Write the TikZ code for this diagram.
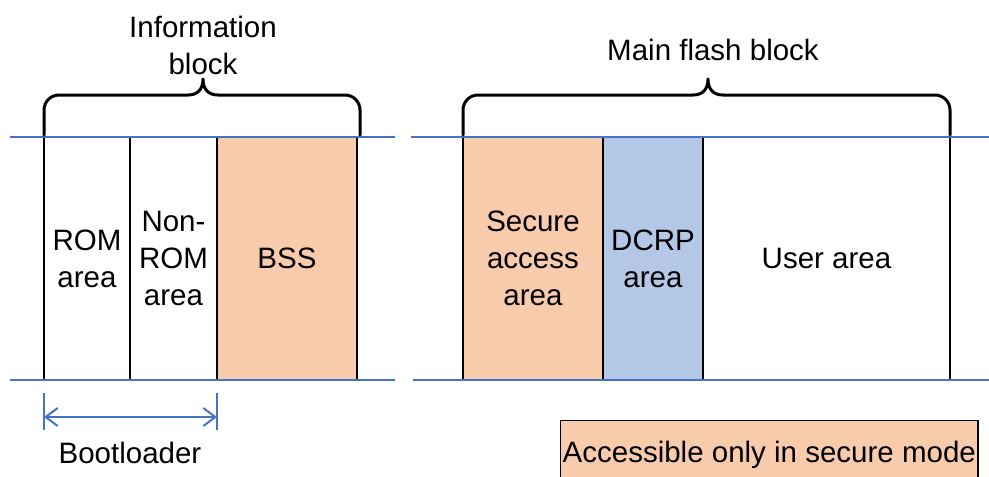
\documentclass[tikz,border=0pt]{standalone}
\usepackage{fontspec}
\setmainfont{Liberation Sans}
\usetikzlibrary{arrows.meta}
\definecolor{secorange}{HTML}{F8CBAD}
\definecolor{dcrpblue}{HTML}{B4C7E7}
\definecolor{rulblue}{HTML}{4472C4}
\tikzset{
  lbl/.style={font=\fontsize{29.5}{37}\selectfont, align=center},
  col/.style={draw=black, line width=1.4pt, inner sep=0pt, outer sep=0pt,
              minimum height=243pt, lbl},
  rail/.style={draw=rulblue, line width=2.2pt},
  brace/.style={draw=black, line width=3pt, line cap=round, line join=round},
  dim/.style={draw=rulblue, line width=2pt},
  barb/.tip={Straight Barb[length=12pt,width=18pt]},
}
\begin{document}
\begin{tikzpicture}[x=1pt,y=-1pt]
\useasboundingbox (0,0) rectangle (989,477);

% information block columns
\node[col, minimum width=86pt]  (rom)    at (87,258.5)  {ROM\\area};
\node[col, minimum width=87pt]  (nonrom) at (173.5,258.5) {Non-\\ROM\\area};
\node[col, minimum width=140pt, fill=secorange] (bss) at (287,258.5) {BSS};

% main flash block columns
\node[col, minimum width=140pt, fill=secorange] (sec) at (533,258.5) {Secure\\access\\area};
\node[col, minimum width=100pt, fill=dcrpblue]  (dcrp) at (653,258.5) {DCRP\\area};
\node[col, minimum width=247pt] (user) at (826.5,258.5) {User area};

% top and bottom rails
\coordinate (tl1) at (10,137);  \coordinate (tl2) at (395,137);
\coordinate (tr1) at (411,137); \coordinate (tr2) at (989,137);
\coordinate (bl1) at (10,380);  \coordinate (bl2) at (395,380);
\coordinate (br1) at (413,380); \coordinate (br2) at (989,380);
\draw[rail] (tl1) -- (tl2);
\draw[rail] (tr1) -- (tr2);
\draw[rail] (bl1) -- (bl2);
\draw[rail] (br1) -- (br2);

% braces (y axis points down, so the arcs run through 270 degrees)
\draw[brace] (44,135) -- (44,110) arc[start angle=180, end angle=270, radius=15] -- (188,95)
  .. controls (197,95) and (203,90) .. (203,79)
  .. controls (203,90) and (209,95) .. (218,95) -- (345,95)
  arc[start angle=270, end angle=360, radius=15] -- (360,135);
\draw[brace] (463,135) -- (463,110) arc[start angle=180, end angle=270, radius=15] -- (693,95)
  .. controls (702,95) and (708,90) .. (708,79)
  .. controls (708,90) and (714,95) .. (723,95) -- (935,95)
  arc[start angle=270, end angle=360, radius=15] -- (950,135);

\node[lbl] (infot) at (203,45) {Information\\block};
\node[lbl] (maint) at (713,50) {Main flash block};

% bootloader span
\coordinate (bt1) at (44,393); \coordinate (bb1) at (44,430);
\coordinate (bt2) at (217,393); \coordinate (bb2) at (217,430);
\coordinate (ba1) at (44,417); \coordinate (ba2) at (217,417);
\draw[dim] (bt1) -- (bb1);
\draw[dim] (bt2) -- (bb2);
\draw[dim, barb-barb] (ba1) -- (ba2);
\node[lbl] (boot) at (130,453) {Bootloader};

% legend
\node[draw=black, line width=1.4pt, fill=secorange, lbl, inner sep=2pt,
      minimum width=417pt, minimum height=70pt, anchor=north west] (legend) at (560,420)
  {\raisebox{8pt}{Accessible only in secure mode}};
\end{tikzpicture}
\end{document}
